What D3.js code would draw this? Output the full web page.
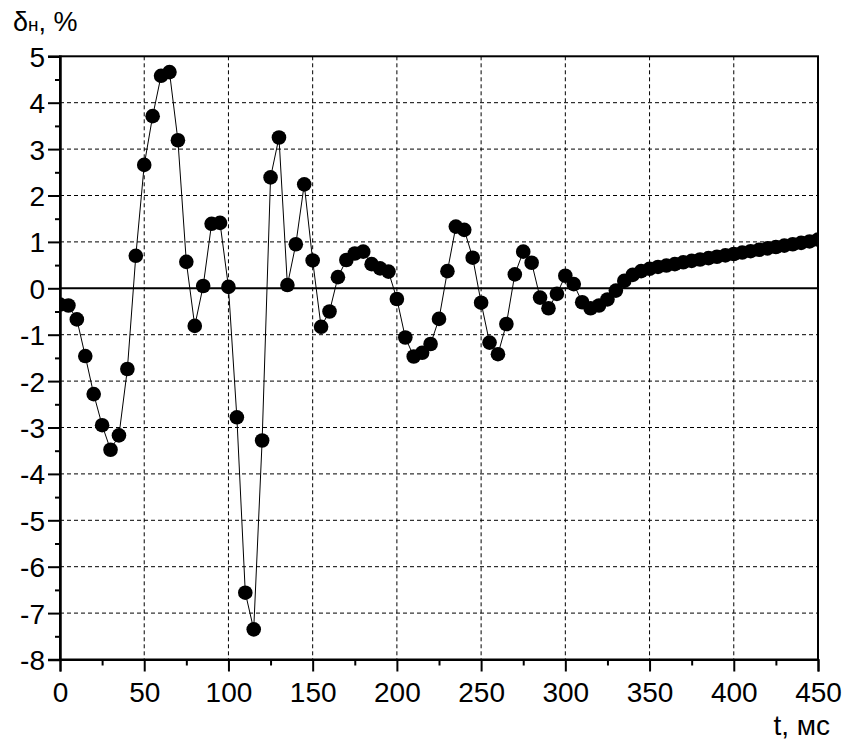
<!DOCTYPE html>
<html>
<head>
<meta charset="utf-8">
<script src="https://cdn.jsdelivr.net/npm/d3@7"></script>
<style>
  html, body { margin: 0; padding: 0; background: #fff; }
  svg { display: block; font-family: "Liberation Sans", Arial, sans-serif; }
</style>
</head>
<body>
<svg id="chart" width="846" height="741"></svg>
<script>
// Time samples, ms
const times = [
  0, 5, 10, 15, 20, 25, 30, 35, 40, 45,
  50, 55, 60, 65, 70, 75, 80, 85, 90, 95,
  100, 105, 110, 115, 120, 125, 130, 135, 140, 145,
  150, 155, 160, 165, 170, 175, 180, 185, 190, 195,
  200, 205, 210, 215, 220, 225, 230, 235, 240, 245,
  250, 255, 260, 265, 270, 275, 280, 285, 290, 295,
  300, 305, 310, 315, 320, 325, 330, 335, 340, 345,
  350, 355, 360, 365, 370, 375, 380, 385, 390, 395,
  400, 405, 410, 415, 420, 425, 430, 435, 440, 445,
  450
];

// Deviation δн, %
const deviation = [
  -0.35, -0.37, -0.67, -1.46, -2.28, -2.95, -3.48, -3.17, -1.74, 0.70,
  2.66, 3.71, 4.58, 4.66, 3.19, 0.57, -0.81, 0.05, 1.39, 1.41,
  0.03, -2.78, -6.56, -7.35, -3.28, 2.39, 3.25, 0.07, 0.95, 2.24,
  0.60, -0.83, -0.50, 0.24, 0.61, 0.75, 0.79, 0.52, 0.43, 0.36,
  -0.23, -1.06, -1.47, -1.39, -1.20, -0.66, 0.37, 1.33, 1.26, 0.66,
  -0.31, -1.17, -1.42, -0.77, 0.30, 0.79, 0.55, -0.20, -0.43, -0.12,
  0.27, 0.09, -0.30, -0.43, -0.37, -0.24, -0.05, 0.16, 0.29, 0.37,
  0.42, 0.46, 0.49, 0.52, 0.56, 0.59, 0.62, 0.65, 0.68, 0.71,
  0.74, 0.77, 0.80, 0.83, 0.86, 0.89, 0.92, 0.95, 0.98, 1.01,
  1.05
];

const xTicks = [0, 50, 100, 150, 200, 250, 300, 350, 400, 450];
const xMinorTicks = [25, 75, 125, 175, 225, 275, 325, 375, 425];
const yTicks = [-8, -7, -6, -5, -4, -3, -2, -1, 0, 1, 2, 3, 4, 5];
const yMinorTicks = [-7.5, -6.5, -5.5, -4.5, -3.5, -2.5, -1.5, -0.5, 0.5, 1.5, 2.5, 3.5, 4.5];

const data = times.map((t, i) => ({ t, v: deviation[i] }));

const svg = d3.select("#chart");
const plotLeft = 60, plotRight = 818, plotTop = 56.3, plotBottom = 659.5;

const x = d3.scaleLinear().domain([0, 450]).range([plotLeft, plotRight]);
const y = d3.scaleLinear().domain([-8, 5]).range([plotBottom, plotTop]);

// Dashed grid
const grid = svg.append("g").attr("stroke", "#000").attr("stroke-width", 1)
  .attr("stroke-dasharray", "4,3").attr("fill", "none");
grid.selectAll("line.vx").data(xTicks.filter(d => d > 0 && d < 450)).join("line")
  .attr("class", "vx")
  .attr("x1", d => x(d)).attr("x2", d => x(d))
  .attr("y1", plotTop).attr("y2", plotBottom);
grid.selectAll("line.hy").data(yTicks.filter(d => d > -8 && d < 5 && d !== 0)).join("line")
  .attr("class", "hy")
  .attr("x1", plotLeft).attr("x2", plotRight)
  .attr("y1", d => y(d)).attr("y2", d => y(d));

// Zero line
svg.append("line")
  .attr("x1", plotLeft).attr("x2", plotRight)
  .attr("y1", y(0)).attr("y2", y(0))
  .attr("stroke", "#000").attr("stroke-width", 2);

// Clip for the data series
svg.append("defs").append("clipPath").attr("id", "plot-clip")
  .append("rect").attr("x", plotLeft).attr("y", plotTop)
  .attr("width", plotRight - plotLeft).attr("height", plotBottom - plotTop);

const series = svg.append("g").attr("clip-path", "url(#plot-clip)");

series.append("path")
  .datum(data)
  .attr("fill", "none")
  .attr("stroke", "#000")
  .attr("stroke-width", 1)
  .attr("d", d3.line().x(d => x(d.t)).y(d => y(d.v)));

series.selectAll("circle").data(data).join("circle")
  .attr("cx", d => x(d.t)).attr("cy", d => y(d.v))
  .attr("r", 7.3).attr("fill", "#000");

// Frame
svg.append("rect")
  .attr("x", plotLeft).attr("y", plotTop)
  .attr("width", plotRight - plotLeft).attr("height", plotBottom - plotTop)
  .attr("fill", "none").attr("stroke", "#000").attr("stroke-width", 2);

// Y axis
const yAxis = svg.append("g").attr("transform", `translate(${plotLeft},0)`)
  .call(d3.axisLeft(y).tickValues(yTicks).tickSize(12).tickFormat(d3.format("d")));
yAxis.select(".domain").attr("stroke-width", 2.5);
yAxis.selectAll(".tick line").attr("stroke-width", 2);
yAxis.selectAll(".tick text")
  .attr("x", -15).attr("dy", "0.36em")
  .attr("font-size", 28).attr("font-family", "Liberation Sans, Arial, sans-serif")
  .attr("fill", "#000").text(d => d < 0 ? "-" + Math.abs(d) : d);

svg.append("g").attr("transform", `translate(${plotLeft},0)`)
  .call(d3.axisLeft(y).tickValues(yMinorTicks).tickSize(5).tickFormat(""))
  .call(g => g.select(".domain").remove())
  .selectAll(".tick line").attr("stroke-width", 2);

// X axis
const xAxis = svg.append("g").attr("transform", `translate(0,${plotBottom})`)
  .call(d3.axisBottom(x).tickValues(xTicks).tickSize(12).tickFormat(d3.format("d")));
xAxis.select(".domain").attr("stroke-width", 2);
xAxis.selectAll(".tick line").attr("stroke-width", 2);
xAxis.selectAll(".tick text")
  .attr("y", 42.5).attr("dy", 0)
  .attr("font-size", 28).attr("font-family", "Liberation Sans, Arial, sans-serif")
  .attr("fill", "#000");

svg.append("g").attr("transform", `translate(0,${plotBottom})`)
  .call(d3.axisBottom(x).tickValues(xMinorTicks).tickSize(6).tickFormat(""))
  .call(g => g.select(".domain").remove())
  .selectAll(".tick line").attr("stroke-width", 2);

// Axis titles
const yTitle = svg.append("text")
  .attr("x", 13).attr("y", 31)
  .attr("font-size", 27).attr("fill", "#000");
yTitle.append("tspan").text("δ");
yTitle.append("tspan").attr("font-size", 19).text("н");
yTitle.append("tspan").text(", %");

svg.append("text")
  .attr("x", 830).attr("y", 735)
  .attr("text-anchor", "end")
  .attr("font-size", 28).attr("fill", "#000")
  .text("t, мс");
</script>
</body>
</html>
